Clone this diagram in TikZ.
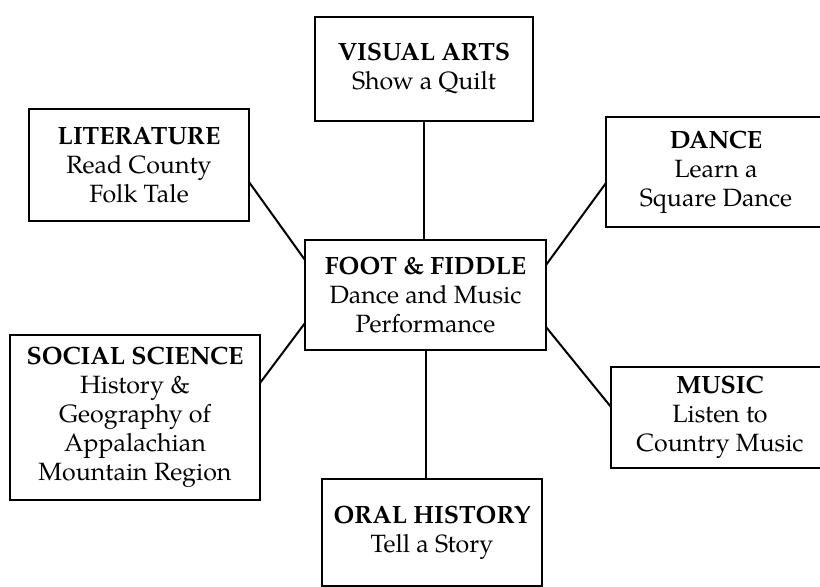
\documentclass[tikz,border=0pt]{standalone}
\usepackage{fontspec}
\setmainfont{TeX Gyre Pagella}
\usepackage{tikz}
\tikzset{topic/.style={draw, line width=1.2pt, align=center, inner sep=2pt, outer sep=0pt,
    font=\fontsize{12.5}{14.5}\selectfont}}
\newcommand{\hd}[1]{\textbf{#1}}

\begin{document}
\begin{tikzpicture}[x=0.5pt, y=-0.5pt, line width=1pt]
  \useasboundingbox (0,0) rectangle (820,586);

  \node[topic, minimum width=109pt, minimum height=52pt] (visual) at (424,69) {\hd{VISUAL ARTS}\\Show a Quilt};
  \node[topic, minimum width=110pt, minimum height=56pt] (lit) at (139,165) {\hd{LITERATURE}\\Read County\\Folk Tale};
  \node[topic, minimum width=110pt, minimum height=55pt] (dance) at (716,172) {\hd{DANCE}\\Learn a\\Square Dance};
  \node[topic, minimum width=120.5pt, minimum height=55pt] (foot) at (425.5,295) {\hd{FOOT \& FIDDLE}\\Dance and Music\\Performance};
  \node[topic, minimum width=125pt, minimum height=82.5pt] (social) at (135,417.5) {\hd{SOCIAL SCIENCE}\\History \&\\Geography of\\Appalachian\\Mountain Region};
  \node[topic, minimum width=109pt, minimum height=50.5pt] (music) at (720,417.5) {\hd{MUSIC}\\Listen to\\Country Music};
  \node[topic, minimum width=110pt, minimum height=53.5pt] (oral) at (432,532.5) {\hd{ORAL HISTORY}\\Tell a Story};

  \draw (visual.south) -- (visual.south |- foot.north);
  \draw (foot.south) -- (foot.south |- oral.north);
  \draw ([yshift=-8.5pt]lit.east) -- ([yshift=17.5pt]foot.west);
  \draw ([yshift=-5.5pt]dance.west) -- ([yshift=15pt]foot.east);
  \draw ([yshift=17.25pt]social.east) -- ([yshift=-14pt]foot.west);
  \draw ([yshift=5.25pt]music.west) -- ([yshift=-16pt]foot.east);
\end{tikzpicture}
\end{document}
